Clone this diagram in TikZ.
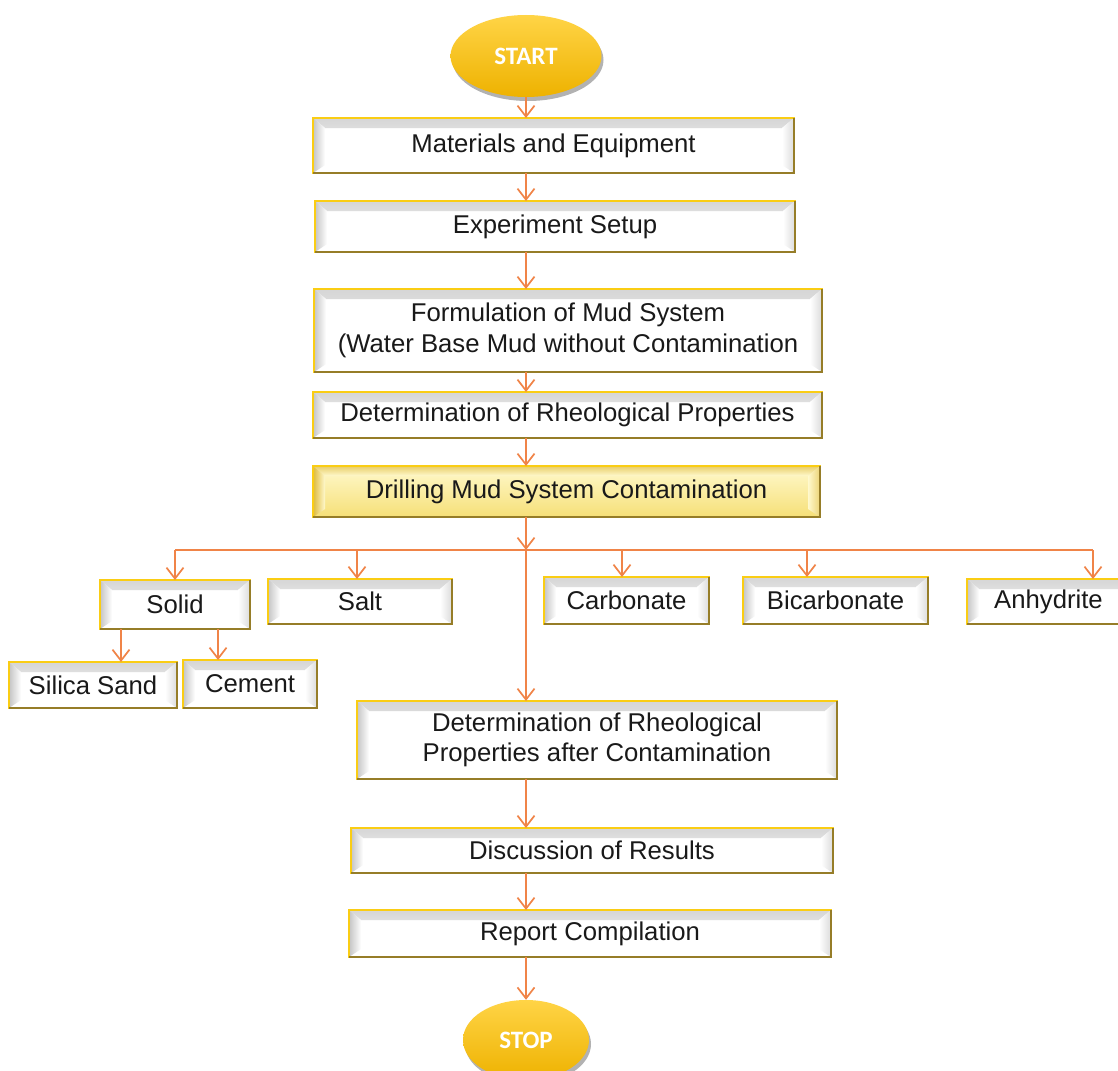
\documentclass[tikz,border=0pt]{standalone}
\usepackage{fontspec}
\setmainfont{Liberation Sans}
\newfontfamily\calib{Carlito}
\usetikzlibrary{shapes.geometric,arrows.meta,calc,shadows}
\definecolor{gold}{RGB}{250,205,20}
\definecolor{olivedge}{RGB}{150,125,40}
\definecolor{arrowc}{RGB}{240,132,72}
\definecolor{txt}{RGB}{25,25,25}
\definecolor{bev}{RGB}{196,196,196}
\definecolor{ylight}{RGB}{255,249,205}
\definecolor{ydark}{RGB}{246,224,120}
\definecolor{ybev}{RGB}{222,186,60}
\definecolor{elltop}{RGB}{255,212,70}
\definecolor{ellbot}{RGB}{238,178,0}
\newcommand\mybevels[2]{%
  \shade[top color=#1!70!#2, bottom color=#2]
    (path picture bounding box.north west) -- (path picture bounding box.north east)
    -- ([xshift=-12pt,yshift=-10pt]path picture bounding box.north east)
    -- ([xshift=12pt,yshift=-10pt]path picture bounding box.north west) -- cycle;
  \shade[left color=#1, right color=#2]
    (path picture bounding box.north west)
    -- ([xshift=12pt,yshift=-10pt]path picture bounding box.north west)
    -- ([xshift=12pt,yshift=8pt]path picture bounding box.south west)
    -- (path picture bounding box.south west) -- cycle;
  \shade[right color=#1!60!#2, left color=#2]
    (path picture bounding box.north east)
    -- ([xshift=-12pt,yshift=-10pt]path picture bounding box.north east)
    -- ([xshift=-12pt,yshift=8pt]path picture bounding box.south east)
    -- (path picture bounding box.south east) -- cycle;
}
\tikzset{
  box/.style={rectangle, draw=gold, line width=2.6pt, fill=white, outer sep=0pt,
    inner sep=2pt, text=txt, align=center,
    font=\fontsize{25.7}{30.5}\selectfont,
    path picture={\mybevels{bev}{white}}},
  ybox/.style={box, fill=ylight,
    path picture={%
      \shade[top color=ylight, bottom color=ydark]
        (path picture bounding box.south west) rectangle (path picture bounding box.north east);
      \mybevels{ybev}{ylight}}},
  term/.style={ellipse, draw=none, top color=elltop, bottom color=ellbot,
    text=white, font=\calib\bfseries\fontsize{25}{30}\selectfont,
    drop shadow={shadow xshift=2pt, shadow yshift=-4pt, opacity=0.3, fill=black}},
  conn/.style={draw=arrowc, line width=1.7pt},
  arr/.style={conn, -{Straight Barb[length=11pt,width=17pt]}},
  darkedge/.style={draw=olivedge, line width=2.6pt},
}
\begin{document}
\begin{tikzpicture}[x=1pt,y=-1pt]
\fill[white] (0,0) rectangle (1118,1070);
\useasboundingbox (0,0) rectangle (1118,1070);

% main column
\node[term, minimum width=151pt, minimum height=82pt] (start) at (526,56) {START};
\node[box, minimum width=481pt, minimum height=55pt] (mat) at (553.5,145.5) {Materials and Equipment};
\node[box, minimum width=480pt, minimum height=51pt] (exp) at (555,226.5) {Experiment Setup};
\node[box, minimum width=508pt, minimum height=83pt] (form) at (568,330.5) {Formulation of Mud System\\(Water Base Mud without Contamination};
\node[box, minimum width=509pt, minimum height=46pt] (det) at (567.5,415) {Determination of Rheological Properties};
\node[ybox, minimum width=507pt, minimum height=51pt] (drill) at (566.5,491.5) {Drilling Mud System Contamination};

% contaminants
\node[box, minimum width=150pt, minimum height=49pt] (solid) at (175,604.5) {Solid};
\node[box, minimum width=184pt, minimum height=45pt] (salt) at (360,601.5) {Salt};
\node[box, minimum width=165pt, minimum height=47pt] (carb) at (626.5,600.5) {Carbonate};
\node[box, minimum width=185pt, minimum height=47pt] (bicarb) at (835.5,600.5) {Bicarbonate};
\node[box, minimum width=163pt, minimum height=45pt] (anhy) at (1048.5,601.5) {Anhydrite};
\node[box, minimum width=168pt, minimum height=46pt] (silica) at (93,685) {Silica Sand};
\node[box, minimum width=134pt, minimum height=48pt] (cement) at (250,684) {Cement};

% lower column
\node[box, minimum width=480pt, minimum height=78pt] (after) at (597,740) {Determination of Rheological\\Properties after Contamination};
\node[box, minimum width=482pt, minimum height=45pt] (disc) at (592,850.5) {Discussion of Results};
\node[box, minimum width=482pt, minimum height=47pt] (rep) at (590,933.5) {Report Compilation};
\node[term, minimum width=126pt, minimum height=80pt] (stop) at (526,1040) {STOP};

% darker bottom/right edges
\foreach \n in {mat,exp,form,det,drill,solid,salt,carb,bicarb,anhy,silica,cement,after,disc,rep}
  \draw[darkedge] (\n.south west) -- (\n.south east) -- (\n.north east);

% spine connectors
\draw[arr] (start.south) -- (start.south |- mat.north);
\draw[arr] (start.south |- mat.south) -- (start.south |- exp.north);
\draw[arr] (start.south |- exp.south) -- (start.south |- form.north);
\draw[arr] (start.south |- form.south) -- (start.south |- det.north);
\draw[arr] (start.south |- det.south) -- (start.south |- drill.north);

% branch
\coordinate (bc) at (526,550);
\coordinate (bl) at (175,550);
\coordinate (bsalt) at (357,550);
\coordinate (bcarb) at (622,550);
\coordinate (bbic) at (807,550);
\coordinate (br) at (1093,550);
\draw[arr] (drill.south -| bc) -- (bc);
\draw[conn] (bl) -- (br);
\draw[arr] (bl) -- (bl |- solid.north);
\draw[arr] (bsalt) -- (bsalt |- salt.north);
\draw[arr] (bcarb) -- (bcarb |- carb.north);
\draw[arr] (bbic) -- (bbic |- bicarb.north);
\draw[arr] (br) -- (br |- anhy.north);
\draw[arr] (bc) -- (bc |- after.north);

% solid sub-branches
\coordinate (s1) at ($(solid.south west)!0.14!(solid.south east)$);
\coordinate (s2) at ($(solid.south west)!0.787!(solid.south east)$);
\draw[arr] (s1) -- (s1 |- silica.north);
\draw[arr] (s2) -- (s2 |- cement.north);

% lower connectors
\draw[arr] (bc |- after.south) -- (bc |- disc.north);
\draw[arr] (bc |- disc.south) -- (bc |- rep.north);
\draw[arr] (bc |- rep.south) -- (stop.north);
\end{tikzpicture}
\end{document}
